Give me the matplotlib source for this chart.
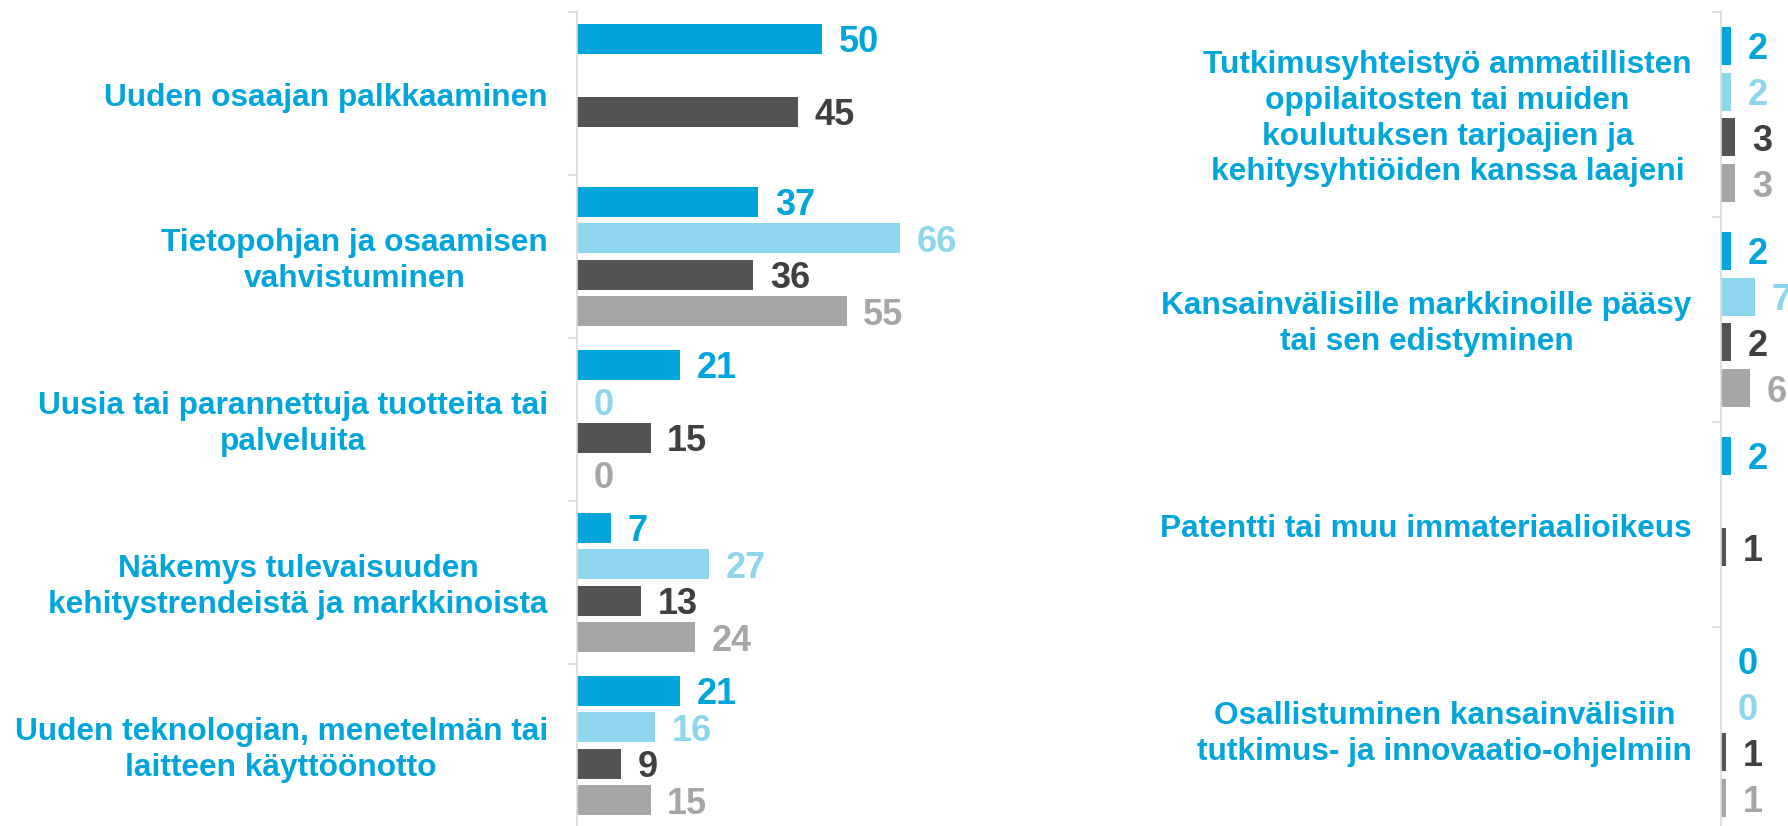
import matplotlib
matplotlib.use("Agg")
import matplotlib.pyplot as plt

plt.rcParams["font.family"] = ["Liberation Sans", "DejaVu Sans"]
plt.rcParams["font.weight"] = "bold"

# Data -----------------------------------------------------------------
left_categories = [
    "Uuden osaajan palkkaaminen",
    "Tietopohjan ja osaamisen\nvahvistuminen",
    "Uusia tai parannettuja tuotteita tai\npalveluita",
    "Näkemys tulevaisuuden\nkehitystrendeistä ja markkinoista",
    "Uuden teknologian, menetelmän tai\nlaitteen käyttöönotto",
]
left_series_1 = [50, 37, 21, 7, 21]
left_series_2 = [None, 66, 0, 27, 16]
left_series_3 = [45, 36, 15, 13, 9]
left_series_4 = [None, 55, 0, 24, 15]

right_categories = [
    "Tutkimusyhteistyö ammatillisten\noppilaitosten tai muiden\nkoulutuksen tarjoajien ja\nkehitysyhtiöiden kanssa laajeni",
    "Kansainvälisille markkinoille pääsy\ntai sen edistyminen",
    "Patentti tai muu immateriaalioikeus",
    "Osallistuminen kansainvälisiin\ntutkimus- ja innovaatio-ohjelmiin",
]
right_series_1 = [2, 2, 2, 0]
right_series_2 = [2, 7, None, 0]
right_series_3 = [3, 2, 1, 1]
right_series_4 = [3, 6, None, 1]

# Styling --------------------------------------------------------------
BAR_COLORS = ["#00A5DC", "#8DD6EE", "#545454", "#A6A6A6"]
TEXT_COLORS = ["#00A5DC", "#8DD6EE", "#404040", "#A6A6A6"]
CAT_COLOR = "#00A5DC"
AXIS_COLOR = "#D9D9D9"

W, H, DPI = 1788, 826, 100
fig = plt.figure(figsize=(W / DPI, H / DPI), dpi=DPI)

SLOT = 0.224
BAR_H = 0.185
PX_PER_UNIT = 4.9


def panel(left_px, top_px, bottom_px, width_px, px_per_unit, categories, series):
    ax = fig.add_axes([left_px / W, 1 - bottom_px / H,
                       width_px / W, (bottom_px - top_px) / H])
    n = len(categories)
    ax.set_ylim(n - 0.5, -0.5)
    ax.set_xlim(0, width_px / px_per_unit)
    for k, values in enumerate(series):
        for i, v in enumerate(values):
            if v is None:
                continue
            y = i + (k - 1.5) * SLOT
            ax.barh(y, v, height=BAR_H, color=BAR_COLORS[k], linewidth=0)
            ax.annotate(str(v), xy=(v, y), xytext=(12.0, 0),
                        textcoords="offset points", ha="left",
                        va="center_baseline", fontsize=26, fontweight="bold",
                        color=TEXT_COLORS[k], annotation_clip=False)
    for i, label in enumerate(categories):
        ax.annotate(label, xy=(0, i), xycoords=("axes fraction", "data"),
                    xytext=(-21, -3), textcoords="offset points",
                    ha="right", va="center", multialignment="center",
                    fontsize=22.8, fontweight="bold", color=CAT_COLOR,
                    linespacing=1.25, annotation_clip=False)
    for side in ("top", "right", "bottom"):
        ax.spines[side].set_visible(False)
    ax.spines["left"].set_color(AXIS_COLOR)
    ax.spines["left"].set_linewidth(1.2)
    ax.set_xticks([])
    ax.set_yticks([i - 0.5 for i in range(n + 1)])
    ax.set_yticklabels([])
    ax.tick_params(axis="y", direction="out", length=6.5, width=1.2,
                   color=AXIS_COLOR)
    ax.patch.set_visible(False)
    return ax


panel(577, 12, 827, 400, PX_PER_UNIT, left_categories,
      [left_series_1, left_series_2, left_series_3, left_series_4])
panel(1721, 12, 832, 67, 4.8, right_categories,
      [right_series_1, right_series_2, right_series_3, right_series_4])

fig.savefig("out.png", dpi=DPI, facecolor="white")
